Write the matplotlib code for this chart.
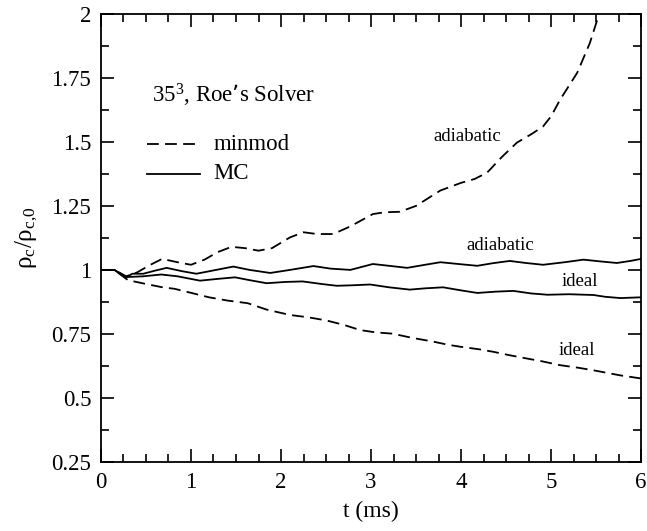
import numpy as np
import matplotlib
matplotlib.use("Agg")
from matplotlib import pyplot as plt
from matplotlib.ticker import MultipleLocator

# values
t_mm_adi = [0, 0.15, 0.28, 0.4, 0.55, 0.68, 0.85, 1.0, 1.15, 1.3, 1.45, 1.6, 1.75, 1.9,
            2.1, 2.25, 2.4, 2.58, 2.77, 3.02, 3.15, 3.32, 3.5, 3.77, 4.0, 4.15, 4.29,
            4.45, 4.62, 4.78, 4.91, 5.0, 5.1, 5.2, 5.29, 5.43, 5.53, 5.56]
r_mm_adi = [1.0, 1.0, 0.975, 0.99, 1.02, 1.043, 1.03, 1.02, 1.04, 1.07, 1.09, 1.085, 1.075, 1.085,
            1.127, 1.147, 1.14, 1.14, 1.17, 1.218, 1.225, 1.227, 1.25, 1.31, 1.34, 1.355, 1.38,
            1.44, 1.497, 1.53, 1.56, 1.60, 1.665, 1.72, 1.77, 1.886, 1.996, 2.03]

t_mm_id = [0, 0.15, 0.3, 0.5, 0.67, 0.82, 1.04, 1.2, 1.41, 1.63, 1.84, 2.1, 2.3, 2.5, 2.7,
           2.88, 3.05, 3.24, 3.45, 3.69, 3.85, 3.99, 4.2, 4.36, 4.55, 4.73, 4.9, 5.1, 5.3,
           5.47, 5.62, 5.77, 6.0]
r_mm_id = [1.0, 1.0, 0.96, 0.945, 0.933, 0.926, 0.907, 0.893, 0.88, 0.87, 0.845, 0.824, 0.815,
           0.803, 0.785, 0.765, 0.756, 0.751, 0.735, 0.72, 0.708, 0.70, 0.69, 0.68, 0.666,
           0.654, 0.643, 0.628, 0.618, 0.608, 0.598, 0.588, 0.576]

t_mc_adi = [0, 0.15, 0.21, 0.28, 0.35, 0.47, 0.6, 0.73, 0.9, 1.06, 1.25, 1.47, 1.65, 1.88,
            2.1, 2.36, 2.55, 2.77, 3.02, 3.2, 3.4, 3.6, 3.77, 4.0, 4.18, 4.35, 4.54, 4.72,
            4.91, 5.15, 5.36, 5.55, 5.73, 5.88, 6.0]
r_mc_adi = [1.0, 1.0, 0.985, 0.972, 0.985, 0.985, 0.997, 1.008, 0.995, 0.985, 0.998, 1.013,
            1.0, 0.988, 1.0, 1.015, 1.005, 1.0, 1.023, 1.016, 1.008, 1.02, 1.03, 1.022, 1.016,
            1.026, 1.035, 1.027, 1.02, 1.03, 1.04, 1.033, 1.027, 1.035, 1.043]

t_mc_id = [0, 0.15, 0.28, 0.47, 0.67, 0.85, 1.1, 1.3, 1.49, 1.65, 1.84, 2.05, 2.24, 2.45,
           2.62, 2.8, 2.99, 3.2, 3.43, 3.6, 3.8, 4.0, 4.18, 4.38, 4.58, 4.78, 4.96, 5.2,
           5.47, 5.6, 5.77, 6.0]
r_mc_id = [1.0, 1.0, 0.972, 0.975, 0.982, 0.975, 0.958, 0.965, 0.971, 0.96, 0.948, 0.953,
           0.955, 0.945, 0.938, 0.94, 0.943, 0.932, 0.923, 0.928, 0.932, 0.92, 0.91, 0.915,
           0.918, 0.908, 0.903, 0.905, 0.902, 0.895, 0.89, 0.893]

ytick_vals = [0.25, 0.5, 0.75, 1, 1.25, 1.5, 1.75, 2]
ytick_labels = ["0.25", "0.5", "0.75", "1", "1.25", "1.5", "1.75", "2"]
xtick_vals = [0, 1, 2, 3, 4, 5, 6]

plt.rcParams["font.family"] = ["Liberation Serif", "DejaVu Serif"]
plt.rcParams["mathtext.default"] = "regular"
plt.rcParams["lines.scale_dashes"] = False

fig = plt.figure(figsize=(6.47, 5.31), dpi=100)
ax = fig.add_axes([0.156, 0.130, 0.835, 0.844])

dash = (8.5, 4.5)
lw = 1.3
ax.plot(t_mm_adi, r_mm_adi, color="black", lw=lw, dashes=dash)
ax.plot(t_mm_id, r_mm_id, color="black", lw=lw, dashes=dash)
ax.plot(t_mc_adi, r_mc_adi, color="black", lw=lw)
ax.plot(t_mc_id, r_mc_id, color="black", lw=lw)

ax.set_xlim(0, 6)
ax.set_ylim(0.25, 2)
ax.set_xticks(xtick_vals)
ax.set_xticklabels([str(v) for v in xtick_vals])
ax.set_yticks(ytick_vals)
ax.set_yticklabels(ytick_labels)
ax.xaxis.set_minor_locator(MultipleLocator(0.25))
ax.yaxis.set_minor_locator(MultipleLocator(0.125))
ax.tick_params(which="both", direction="in", top=True, right=True, width=1.2, labelsize=16.5)
ax.tick_params(which="major", length=9.5, pad=7)
ax.tick_params(which="minor", length=5.5)
for s in ax.spines.values():
    s.set_linewidth(1.3)

ax.set_xlabel("t (ms)", fontsize=17, labelpad=6)
ax.set_ylabel(r"$\rho_c/\rho_{c{,}0}$", fontsize=18, labelpad=8)

# legend drawn by hand to look like the original
ax.text(0.57, 1.68, "35$^3$, Roe\u2019s Solver", fontsize=16.5, va="center")
ax.plot([0.51, 1.1], [1.49, 1.49], color="black", lw=lw, dashes=dash)
ax.plot([0.51, 1.1], [1.375, 1.375], color="black", lw=lw)
ax.text(1.25, 1.49, "minmod", fontsize=16.5, va="center")
ax.text(1.25, 1.375, "MC", fontsize=16.5, va="center")

ax.text(4.07, 1.52, "adiabatic", fontsize=13.5, ha="center", va="center")
ax.text(4.43, 1.095, "adiabatic", fontsize=13.5, ha="center", va="center")
ax.text(5.32, 0.955, "ideal", fontsize=13.5, ha="center", va="center")
ax.text(5.29, 0.685, "ideal", fontsize=13.5, ha="center", va="center")

fig.savefig("out.png", dpi=100)
